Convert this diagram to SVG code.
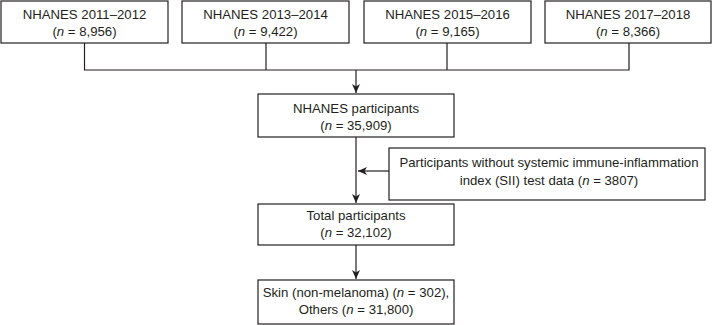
<svg xmlns="http://www.w3.org/2000/svg" width="713" height="325" viewBox="0 0 713 325">
<style>
.box{fill:#fff;stroke:#231f20;stroke-width:1.2}
.ln{fill:none;stroke:#231f20;stroke-width:1.2}
text{font-family:"Liberation Sans",Arial,sans-serif;font-size:13.2px;fill:#231f20;text-anchor:middle}
.i{font-style:italic}
</style>
<defs>
<marker id="ah" markerWidth="10" markerHeight="10" refX="9" refY="5" orient="auto" markerUnits="userSpaceOnUse">
<path d="M0,1 L9,5 L0,9 L2.5,5 Z" fill="#231f20"/>
</marker>
</defs>
<rect width="713" height="325" fill="#fff"/>
<g id="connectors">
<path class="ln" d="M84.5,43 V70 H629 V43 M266,43 V70 M447,43 V70"/>
<path class="ln" d="M356,70 V93" marker-end="url(#ah)"/>
<path class="ln" d="M356,137 V203" marker-end="url(#ah)"/>
<path class="ln" d="M389,171 H358" marker-end="url(#ah)"/>
<path class="ln" d="M356,245 V279" marker-end="url(#ah)"/>
</g>
<g id="n1"><rect class="box" x="1" y="1" width="167" height="42"/><text x="84.5" y="19">NHANES 2011–2012</text><text x="84.5" y="36">(<tspan class="i">n</tspan> = 8,956)</text></g>
<g id="n2"><rect class="box" x="182" y="1" width="167" height="42"/><text x="265.5" y="19">NHANES 2013–2014</text><text x="265.5" y="36">(<tspan class="i">n</tspan> = 9,422)</text></g>
<g id="n3"><rect class="box" x="364" y="1" width="167" height="42"/><text x="447.5" y="19">NHANES 2015–2016</text><text x="447.5" y="36">(<tspan class="i">n</tspan> = 9,165)</text></g>
<g id="n4"><rect class="box" x="545" y="1" width="166" height="42"/><text x="628" y="19">NHANES 2017–2018</text><text x="628" y="36">(<tspan class="i">n</tspan> = 8,366)</text></g>
<g id="n5"><rect class="box" x="258" y="94" width="196" height="43"/><text x="356" y="113">NHANES participants</text><text x="356" y="130">(<tspan class="i">n</tspan> = 35,909)</text></g>
<g id="n6"><rect class="box" x="389" y="148" width="316" height="52"/><text x="549" y="167">Participants without systemic immune-inflammation</text><text x="549" y="185">index (SII) test data (<tspan class="i">n</tspan> = 3807)</text></g>
<g id="n7"><rect class="box" x="258" y="204" width="196" height="41"/><text x="356" y="220">Total participants</text><text x="356" y="237">(<tspan class="i">n</tspan> = 32,102)</text></g>
<g id="n8"><rect class="box" x="258" y="280" width="196" height="44"/><text x="356" y="297">Skin (non-melanoma) (<tspan class="i">n</tspan> = 302),</text><text x="356" y="314">Others (<tspan class="i">n</tspan> = 31,800)</text></g>
</svg>
